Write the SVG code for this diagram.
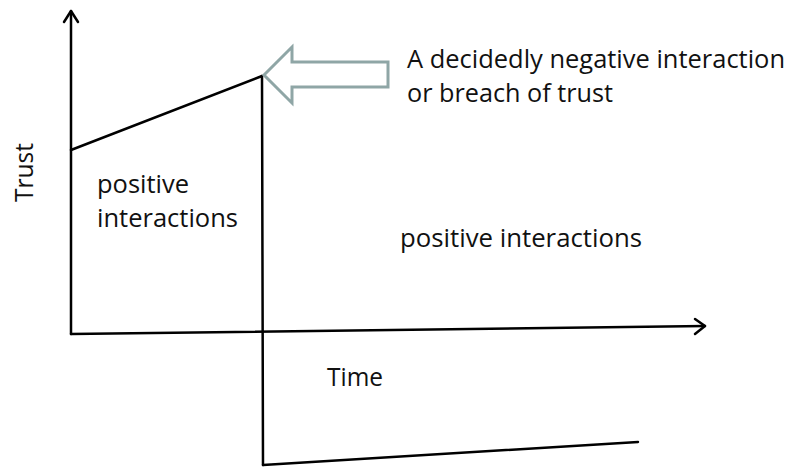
<svg xmlns="http://www.w3.org/2000/svg" width="796" height="468" viewBox="0 0 796 468">
<style>
.ln{fill:none;stroke:#000;stroke-width:2.5;stroke-linecap:round;stroke-linejoin:round}
.t{font-family:"Open Sans","Liberation Sans",sans-serif;font-size:25px;fill:#111}
</style>
<rect width="796" height="468" fill="#fff"/>
<g id="connectors">
<path class="ln" d="M71,334 L71,11"/>
<path class="ln" d="M64,22 L71,11 L78,22"/>
<path class="ln" d="M71,334 L705,326"/>
<path class="ln" d="M695,319 L705,326 L695,334"/>
<path class="ln" d="M71,150 L262,76"/>
<path class="ln" d="M262,76 L263,465"/>
<path class="ln" d="M263,465 L638,442"/>
</g>
<g id="callout">
<path d="M264,75 L292,47 L292,62 L388,62 L388,87 L292,87 L292,103 Z" fill="#fff" stroke="#8fa6a6" stroke-width="3" stroke-linejoin="miter"/>
</g>
<g id="labels">
<text class="t" x="407" y="68" textLength="378" lengthAdjust="spacingAndGlyphs">A decidedly negative interaction</text>
<text class="t" x="407" y="102" textLength="206" lengthAdjust="spacingAndGlyphs">or breach of trust</text>
<text class="t" x="97" y="193" textLength="92" lengthAdjust="spacingAndGlyphs">positive</text>
<text class="t" x="97" y="227" textLength="141" lengthAdjust="spacingAndGlyphs">interactions</text>
<text class="t" x="400" y="247" textLength="242" lengthAdjust="spacingAndGlyphs">positive interactions</text>
<text class="t" x="327" y="386" textLength="56" lengthAdjust="spacingAndGlyphs">Time</text>
<text class="t" transform="translate(33,202) rotate(-90)" x="0" y="0" textLength="59" lengthAdjust="spacingAndGlyphs">Trust</text>
</g>
</svg>
